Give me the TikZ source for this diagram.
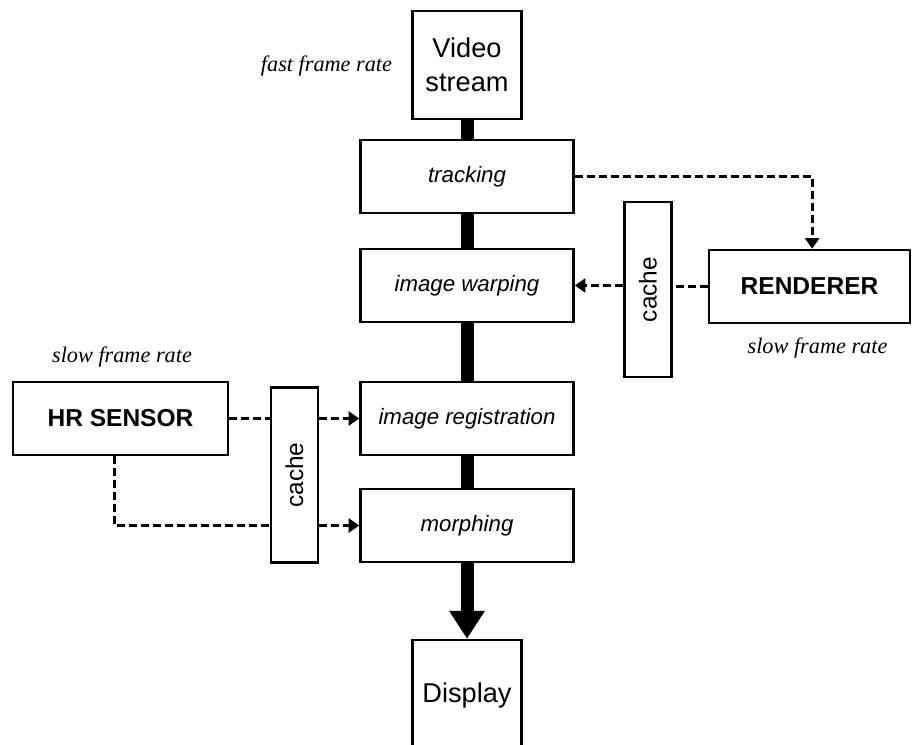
\documentclass[tikz,border=0pt]{standalone}
\usepackage{fontspec}
\setmainfont{Liberation Serif}
\setsansfont{Liberation Sans}
\usetikzlibrary{arrows.meta}
\def\flowwidth{9.75pt}

\begin{document}
\begin{tikzpicture}[x=0.75pt,y=-0.75pt,line width=1.9pt]
    \tikzstyle{block}=[draw,inner sep=0pt]
    \tikzstyle{stage}=[block,minimum width=159.75pt,minimum height=54.75pt,font=\fontsize{16.7}{20}\selectfont\sffamily\itshape]
    \tikzstyle{io}=[block,minimum width=81.75pt,minimum height=81pt,align=center,font=\fontsize{20.4}{25.5}\selectfont\sffamily]
    \tikzstyle{unit}=[block,minimum height=54.75pt,font=\fontsize{18.4}{22}\selectfont\sffamily\bfseries]
    \tikzstyle{cachebox}=[block,minimum width=35pt,minimum height=131pt,font=\fontsize{18.3}{22}\selectfont\sffamily]
    \tikzstyle{rate}=[font=\fontsize{16.7}{20}\selectfont\itshape]
    \tikzstyle{flow}=[line width=\flowwidth]
    \tikzstyle{dashline}=[line width=2.1pt,dash pattern=on 6pt off 3pt]
    \tikzstyle{dasharrow}=[dashline,-{Triangle[width=10.5pt,length=8pt]}]

    \useasboundingbox (0,0) rectangle (912,744);

    % Draw the main pipeline
    \node[io] (video) at (467,65) {Video\\stream};
    \node[stage] (track) at (467,176.5) {tracking};
    \node[stage] (warp) at (467,285.5) {image warping};
    \node[stage] (reg) at (467,418.5) {image registration};
    \node[stage] (morph) at (467,525.5) {morphing};
    \node[io,minimum height=82.5pt] (disp) at (467,695) {Display};

    % Draw the slow sources and their caches
    \node[unit,minimum width=150.75pt] (render) at (809.5,286.5) {RENDERER};
    \node[cachebox] (cacheR) at (648,289.5) {\rotatebox{90}{cache}};
    \node[unit,minimum width=161.25pt] (hr) at (120.5,418.5) {HR SENSOR};
    \node[cachebox] (cacheL) at (294.5,475) {\rotatebox{90}{cache}};

    % Annotate the frame rates
    \node[rate] (fast) at (326.5,66) {fast frame rate};
    \node[rate] (slowL) at (122,357) {slow frame rate};
    \node[rate] (slowR) at (817.5,348) {slow frame rate};

    % Connect the stages of the pipeline
    \foreach \source/\dest in {video/track,track/warp,warp/reg,reg/morph}
        \draw[flow] (\source.south) -- (\dest.north);
    \draw[flow,-{Triangle[width=25.5pt,length=21pt]}] (morph.south) -- (disp.north);

    % Connect the renderer
    \draw[dasharrow] (track.east) -| ([xshift=2pt]render.north);
    \draw[dashline] (render.west) -- (cacheR.east |- render.west);
    \draw[dasharrow] (cacheR.west |- warp.east) -- (warp.east);

    % Connect the sensor
    \draw[dashline] (hr.east) -- (cacheL.west |- hr.east);
    \draw[dasharrow] (cacheL.east |- reg.west) -- (reg.west);
    \draw[dashline] ([xshift=-4.5pt]hr.south) |- (cacheL.west |- morph.west);
    \draw[dasharrow] (cacheL.east |- morph.west) -- (morph.west);
\end{tikzpicture}
\end{document}
